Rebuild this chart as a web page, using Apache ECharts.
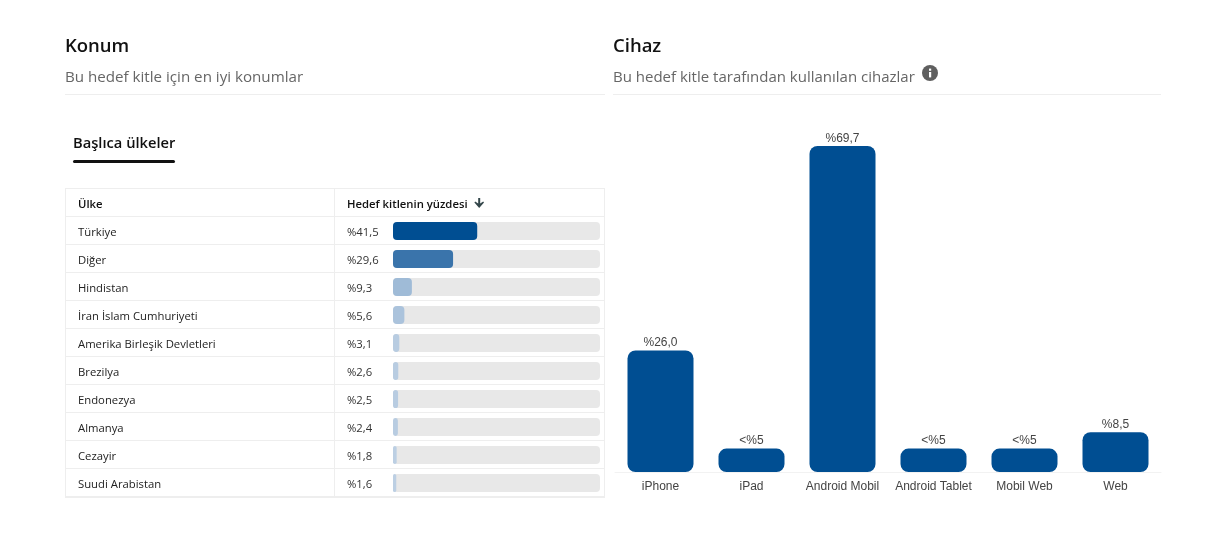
<!DOCTYPE html>
<html><head><meta charset="utf-8">
<style>html,body{margin:0;padding:0;background:#fff}#c{width:1209px;height:541px}</style>
<script src="https://cdn.jsdelivr.net/npm/echarts@6/dist/echarts.min.js"></script>
</head><body><div id="c"></div>
<script>
const countries = ['Türkiye','Diğer','Hindistan','İran İslam Cumhuriyeti','Amerika Birleşik Devletleri','Brezilya','Endonezya','Almanya','Cezayir','Suudi Arabistan'];
const countryValues = [41.5,29.6,9.3,5.6,3.1,2.6,2.5,2.4,1.8,1.6];
const countryLabels = ['%41,5','%29,6','%9,3','%5,6','%3,1','%2,6','%2,5','%2,4','%1,8','%1,6'];
const countryColors = ['#004e92','#3a74ab','#9fbbd7','#abc3dc','#b8cce1','#b8cce1','#b8cce1','#b8cce1','#bccfe3','#bccfe3'];
const devices = ['iPhone','iPad','Android Mobil','Android Tablet','Mobil Web','Web'];
const deviceValues = [26.0,5,69.7,5,5,8.5];
const deviceLabels = ['%26,0','<%5','%69,7','<%5','<%5','%8,5'];

const UI = '"Open Sans","Noto Sans",sans-serif';
const AR = '"Liberation Sans",Arial,sans-serif';
const line = '#eeeeee';
function hline(x1,x2,y,w){return {type:'line',silent:true,shape:{x1,y1:y,x2,y2:y},style:{stroke:line,lineWidth:w||1}};}
function vline(x,y1,y2){return {type:'line',silent:true,shape:{x1:x,y1,x2:x,y2},style:{stroke:line,lineWidth:1}};}
function txt(x,y,text,font,size,weight,fill){return {type:'text',silent:true,x,y,style:{text,fontFamily:font,fontSize:size,fontWeight:weight,fill,textVerticalAlign:'middle',verticalAlign:'middle'}};}

const graphics = [
  txt(65,46.5,'Konum',UI,18.5,600,'#111'),
  txt(65,77.5,'Bu hedef kitle için en iyi konumlar',UI,15.15,400,'#666'),
  hline(65,605,94.5),
  txt(613,46.5,'Cihaz',UI,18.5,600,'#111'),
  txt(613,77.5,'Bu hedef kitle tarafından kullanılan cihazlar',UI,15,400,'#666'),
  hline(613,1161,94.5),
  {type:'circle',silent:true,shape:{cx:930,cy:73,r:8},style:{fill:'#5f5f5f'}},
  {type:'rect',silent:true,shape:{x:929,y:72,width:2.2,height:5.4},style:{fill:'#fff'}},
  {type:'rect',silent:true,shape:{x:929,y:68.6,width:2.2,height:2.2},style:{fill:'#fff'}},
  txt(73,143.5,'Başlıca ülkeler',UI,14.7,600,'#111'),
  {type:'rect',silent:true,shape:{x:73,y:160,width:102,height:3,r:1.5},style:{fill:'#111'}},
  hline(65,605,188.5),
  hline(65,605,216.5),
  hline(65,605,244.5),hline(65,605,272.5),hline(65,605,300.5),hline(65,605,328.5),hline(65,605,356.5),
  hline(65,605,384.5),hline(65,605,412.5),hline(65,605,440.5),hline(65,605,468.5),
  hline(65,605,497,2),
  vline(65.5,188,498),vline(334.5,188,497),vline(604.5,188,498),
  txt(78,204.5,'Ülke',UI,11.3,600,'#111'),
  txt(347,204.5,'Hedef kitlenin yüzdesi',UI,11.3,600,'#111'),
  {type:'polygon',silent:true,shape:{points:[[478.2,198],[480.2,198],[480.2,203.5],[483.2,201.5],[484,202.6],[479.2,208],[474.4,202.6],[475.2,201.5],[478.2,203.5]]},style:{fill:'#33464a'}}
];

const chart = echarts.init(document.getElementById('c'),null,{renderer:'canvas'});
chart.setOption({
  animation:false,
  backgroundColor:'#fff',
  graphic:graphics,
  grid:[
    {left:393,top:217,width:207,height:280},
    {left:615,top:146,width:546,height:326},
    {left:393,top:219,width:207,height:280}
  ],
  xAxis:[
    {type:'value',gridIndex:0,min:0,max:102,show:false},
    {type:'category',gridIndex:1,data:devices,axisTick:{show:false},
     axisLine:{lineStyle:{color:'#f2f2f2',width:1}},
     axisLabel:{color:'#444',fontFamily:AR,fontSize:12,margin:9,interval:0}},
    {type:'value',gridIndex:2,min:0,max:102,show:false}
  ],
  yAxis:[
    {type:'category',gridIndex:0,inverse:true,data:countries,show:false},
    {type:'value',gridIndex:1,min:0,max:69.7,show:false},
    {type:'category',gridIndex:2,inverse:true,data:countries,axisLine:{show:false},axisTick:{show:false},
     axisLabel:{align:'left',margin:315,color:'#222',fontFamily:UI,fontSize:11.3,interval:0}},
    {type:'category',gridIndex:2,inverse:true,position:'left',data:countryLabels,axisLine:{show:false},axisTick:{show:false},
     axisLabel:{align:'left',margin:46,color:'#333',fontFamily:UI,fontSize:11.3,interval:0}}
  ],
  series:[
    {type:'bar',xAxisIndex:0,yAxisIndex:0,barWidth:18,
     showBackground:true,backgroundStyle:{color:'#e8e8e8',borderRadius:4},
     data:countryValues.map((v,i)=>({value:v,itemStyle:{color:countryColors[i],borderRadius:4}}))},
    {type:'bar',xAxisIndex:1,yAxisIndex:1,barWidth:66,
     itemStyle:{color:'#004e92',borderRadius:8},
     label:{show:true,position:'top',distance:1.5,color:'#444',fontFamily:AR,fontSize:12,
       formatter:p=>deviceLabels[p.dataIndex]},
     data:deviceValues}
  ]
});
</script></body></html>
